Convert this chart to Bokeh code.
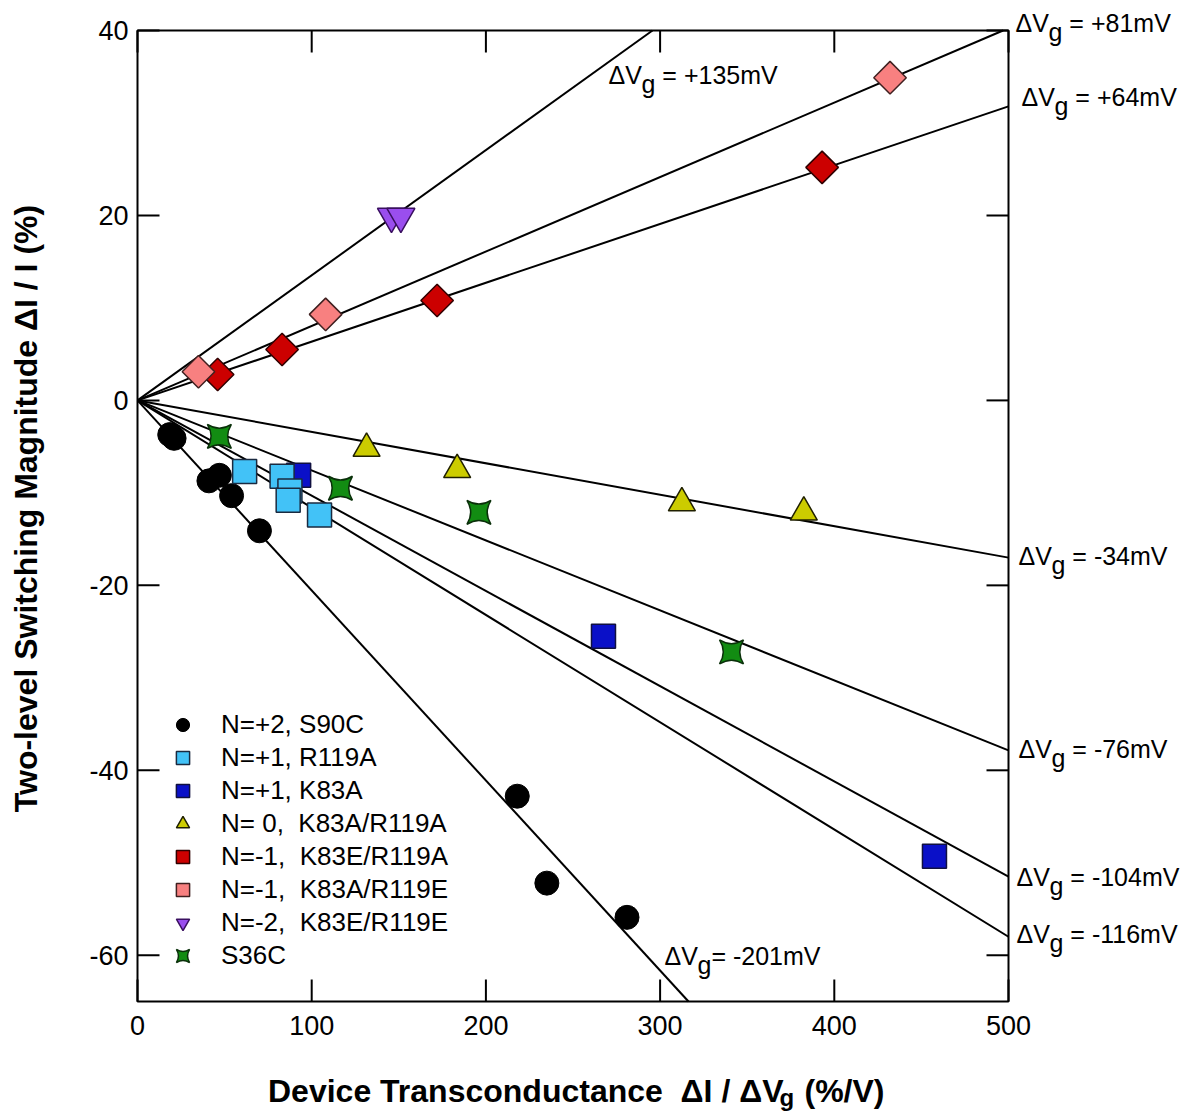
import numpy as np
from math import pi
from bokeh.plotting import figure
from bokeh.models import Range1d, Label, Legend, LegendItem, BoxAnnotation
from bokeh.core.properties import value
from bokeh.embed import file_html
from bokeh.resources import INLINE

# ---------------- data ----------------
s90c_x = [18.5, 21, 41, 47, 54, 70, 218, 235, 281]
s90c_y = [-3.7, -4.1, -8.7, -8.1, -10.3, -14.1, -42.8, -52.2, -55.9]
r119a_x = [61.5, 83, 87.5, 86.5, 104.5]
r119a_y = [-7.7, -8.2, -9.8, -10.8, -12.4]
k83a_x = [92.5, 267.5, 457.5]
k83a_y = [-8.1, -25.5, -49.3]
k83a_r119a_x = [131.5, 183.5, 312.5, 382.5]
k83a_r119a_y = [-5.2, -7.5, -11.1, -12.1]
k83e_r119a_x = [46, 83, 172, 393]
k83e_r119a_y = [2.8, 5.5, 10.8, 25.2]
k83a_r119e_x = [35, 108, 432]
k83a_r119e_y = [3.1, 9.3, 34.9]
k83e_r119e_x = [145.8, 151.2]
k83e_r119e_y = [19.9, 19.9]
s36c_x = [47, 116.5, 196, 341]
s36c_y = [-3.9, -9.5, -12.1, -27.2]

legend_labels = ["N=+2, S90C", "N=+1, R119A", "N=+1, K83A", "N= 0,  K83A/R119A",
                 "N=-1,  K83E/R119A", "N=-1,  K83A/R119E", "N=-2,  K83E/R119E", "S36C"]

dvg_text = ["+135mV", "+81mV", "+64mV", "-34mV", "-76mV", "-104mV", "-116mV", "-201mV"]
fit_slopes = [0.1353, 0.0805, 0.0636, -0.0340, -0.0757, -0.1030, -0.1160, -0.2055]

x_ticks = [0, 100, 200, 300, 400, 500]
y_ticks = [-60, -40, -20, 0, 20, 40]
X_MIN, X_MAX = 0, 500
Y_MIN, Y_MAX = -65, 40

# ---------------- layout (pixels) ----------------
W, H = 1183, 1112
BOX_L, BOX_T, BOX_W, BOX_H = 137, 30, 871, 971
SX = BOX_W / (X_MAX - X_MIN)
SY = BOX_H / (Y_MAX - Y_MIN)

def DX(px):
    return X_MIN + (px - BOX_L) / SX

def DY(py):
    return Y_MAX - (py - BOX_T) / SY

FONT = "Liberation Sans"

p = figure(width=W, height=H,
           x_range=Range1d(DX(0), DX(W)), y_range=Range1d(DY(H), DY(0)),
           x_axis_type=None, y_axis_type=None,
           output_backend="svg", toolbar_location=None,
           min_border=0, min_border_left=0, min_border_right=0,
           min_border_top=0, min_border_bottom=0)
p.title.visible = False
p.grid.visible = False
p.outline_line_color = None
p.background_fill_color = "white"
p.border_fill_color = "white"

# fitted lines through the origin, ending at the plot box
s = np.array(fit_slopes)
x_end = np.minimum(X_MAX, np.where(s > 0, Y_MAX / s, Y_MIN / s))
p.segment(x0=np.zeros_like(s), y0=np.zeros_like(s), x1=x_end, y1=s * x_end,
          line_color="black", line_width=2)

# plot box and inward ticks on all four sides
p.add_layout(BoxAnnotation(left=X_MIN, right=X_MAX, bottom=Y_MIN, top=Y_MAX,
                           fill_alpha=0, fill_color=None, line_color="black",
                           line_alpha=1.0, line_width=2))
TL = 22
tlx, tly = TL / SX, TL / SY
ny, nx = len(y_ticks), len(x_ticks)
p.segment(x0=[X_MIN] * ny, y0=y_ticks, x1=[X_MIN + tlx] * ny, y1=y_ticks, line_color="black", line_width=2)
p.segment(x0=[X_MAX - tlx] * ny, y0=y_ticks, x1=[X_MAX] * ny, y1=y_ticks, line_color="black", line_width=2)
p.segment(x0=x_ticks, y0=[Y_MIN] * nx, x1=x_ticks, y1=[Y_MIN + tly] * nx, line_color="black", line_width=2)
p.segment(x0=x_ticks, y0=[Y_MAX - tly] * nx, x1=x_ticks, y1=[Y_MAX] * nx, line_color="black", line_width=2)

# tick labels
p.text(x=x_ticks, y=[Y_MIN] * nx, text=[str(t) for t in x_ticks],
       text_font=value(FONT), text_font_size=value("27px"), text_color="black",
       text_align="center", text_baseline="top", y_offset=14)
p.text(x=[X_MIN] * ny, y=y_ticks, text=[str(t) for t in y_ticks],
       text_font=value(FONT), text_font_size=value("27px"), text_color="black",
       text_align="right", text_baseline="middle", x_offset=-9)

# markers
r_s90c = p.scatter(s90c_x, s90c_y, marker="circle", size=24, fill_color="black", line_color="black")
r_k83a = p.scatter(k83a_x, k83a_y, marker="square", size=24, fill_color="#0A10C8", line_color="#101040", line_width=1.5)
r_r119a = p.scatter(r119a_x, r119a_y, marker="square", size=24, fill_color="#42C2F7", line_color="#1A2A40", line_width=1.5)
r_y = p.scatter(k83a_r119a_x, k83a_r119a_y, marker="triangle", size=27, fill_color="#CCCC00", line_color="#202000", line_width=1.5)
r_red = p.scatter(k83e_r119a_x, k83e_r119a_y, marker="square", angle=pi / 4, size=23, fill_color="#CC0000", line_color="#300000", line_width=1.5)
r_pink = p.scatter(k83a_r119e_x, k83a_r119e_y, marker="square", angle=pi / 4, size=23, fill_color="#F88080", line_color="#402020", line_width=1.5)
r_purp = p.scatter(k83e_r119e_x, k83e_r119e_y, marker="inverted_triangle", size=28, fill_color="#9A4EEE", line_color="#3A1060", line_width=1.5)
r_green = p.scatter(s36c_x, s36c_y, marker="square_pin", size=24, fill_color="#128C12", line_color="#0A300A", line_width=1.5)

renderers = [r_s90c, r_r119a, r_k83a, r_y, r_red, r_pink, r_purp, r_green]
legend = Legend(items=[LegendItem(label=l, renderers=[r]) for l, r in zip(legend_labels, renderers)],
                location=(166, 140), margin=0, padding=0, spacing=0,
                glyph_height=33, glyph_width=33, label_standoff=22, label_height=33,
                label_text_font=FONT, label_text_font_size="26px", label_text_color="black",
                background_fill_alpha=0, border_line_alpha=0)
p.add_layout(legend)

# ΔVg labels: (left edge px, centre px)
def dvg_label(px, py, val, gap=True, size=25):
    w_dv = 1.32 * size
    w_g = 0.556 * size
    w_sp = 0.278 * size if gap else 0
    kw = dict(text_font=FONT, text_font_size=f"{size}px", text_color="black",
              text_baseline="middle", text_align="left")
    x, y = DX(px), DY(py)
    p.add_layout(Label(x=x, y=y, text="ΔV", **kw))
    p.add_layout(Label(x=x, y=y, x_offset=w_dv, y_offset=-9, text="g", **kw))
    p.add_layout(Label(x=x, y=y, x_offset=w_dv + w_g + w_sp, text="= " + val, **kw))

label_px = [(608, 74), (1015, 22), (1021, 96), (1018, 555),
            (1018, 748), (1016, 876), (1016, 933), (664, 955)]
for (lx, ly), t in zip(label_px, dvg_text):
    dvg_label(lx, ly, t, gap=(t != "-201mV"))

# axis titles
tkw = dict(text_font=FONT, text_font_style="bold", text_color="black", text_baseline="middle")
TX, TY = DX(783), DY(1090)
p.add_layout(Label(x=TX, y=TY, text="Device Transconductance\u00a0 ΔI / ΔV",
                   text_font_size="32px", text_align="right", **tkw))
p.add_layout(Label(x=TX, y=TY, x_offset=-4, y_offset=-7, text="g",
                   text_font_size="24px", text_align="left", **tkw))
p.add_layout(Label(x=TX, y=TY, x_offset=21, text="(%/V)",
                   text_font_size="32px", text_align="left", **tkw))
p.add_layout(Label(x=DX(25), y=DY(508), angle=pi / 2, text="Two-level Switching Magnitude ΔI / I (%)",
                   text_font_size="32px", text_align="center", **tkw))

open("out.html", "w").write(file_html(p, INLINE))
